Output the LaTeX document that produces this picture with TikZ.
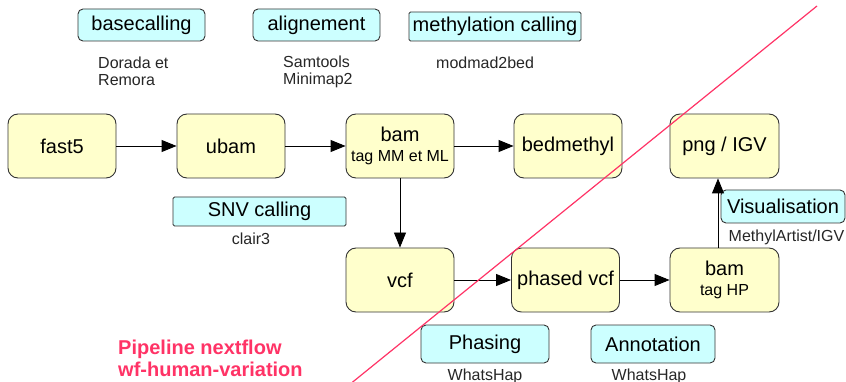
\documentclass[tikz,border=0pt]{standalone}
\usepackage{fontspec}
\setmainfont{Liberation Sans}
\usetikzlibrary{arrows.meta}
\definecolor{ybox}{HTML}{FFFFCC}
\definecolor{bbox}{HTML}{CCFFFF}
\definecolor{pinkred}{HTML}{FF3366}
\definecolor{edge}{HTML}{333333}
\tikzset{
  ybx/.style={draw=edge, line width=0.9pt, fill=ybox, rounded corners=10pt, minimum width=108pt, minimum height=64pt, inner sep=0pt, font=\fontsize{20}{22}\selectfont, align=center},
  bbx/.style={draw=edge, line width=0.9pt, fill=bbox, rounded corners=5pt, inner sep=0pt, font=\fontsize{20}{22}\selectfont},
  tool/.style={inner sep=0pt, font=\fontsize{16}{17}\selectfont, align=left, text=black!85},
  arr/.style={line width=0.9pt, -{Triangle[length=15pt,width=12pt]}}
}
\begin{document}
\begin{tikzpicture}[x=1pt,y=-1pt]
\useasboundingbox (0,0) rectangle (846,382);
% main nodes
\node[ybx] (fast5) at (62,146) {fast5};
\node[ybx] (ubam) at (231,146) {ubam};
\node[ybx] (bam) at (400,146) {bam\\[-2pt]{\fontsize{16}{17}\selectfont tag MM et ML}};
\node[ybx] (bed) at (568,146) {bedmethyl};
\node[ybx, minimum width=109pt] (png) at (724.5,146) {png / IGV};
\node[ybx] (vcf) at (400,280) {vcf};
\node[ybx] (phased) at (565.5,280) {phased vcf};
\node[ybx, minimum width=109pt] (bamhp) at (724.5,280) {bam\\[-2pt]{\fontsize{16}{17}\selectfont tag HP}};
% step boxes
\node[bbx, minimum width=127pt, minimum height=32pt] (basec) at (141.5,25) {basecalling};
\node[bbx, minimum width=127pt, minimum height=32pt] (align) at (316.5,25) {alignement};
\node[bbx, rounded corners=1.5pt, minimum width=172pt, minimum height=29pt] (methc) at (495,26.5) {methylation calling};
\node[bbx, rounded corners=1.5pt, minimum width=173pt, minimum height=29pt] (snvc) at (259.5,211.5) {SNV calling};
\node[bbx, minimum width=124pt, minimum height=33pt] (visu) at (783,206.5) {Visualisation};
\node[bbx, minimum width=128pt, minimum height=38pt] (phas) at (485,344) {Phasing};
\node[bbx, minimum width=124pt, minimum height=38pt] (annot) at (653,344) {Annotation};
% tool labels
\node[tool, anchor=west] (t1) at (98,71.5) {Dorada et\\Remora};
\node[tool, anchor=west] (t2) at (283,71.5) {Samtools\\Minimap2};
\node[tool, anchor=west] (t3) at (436,63) {modmad2bed};
\node[tool] (t4) at (251,239) {clair3};
\node[tool] (t5) at (786.5,237) {MethylArtist/IGV};
\node[tool] (t6) at (485,376) {WhatsHap};
\node[tool] (t7) at (649,376) {WhatsHap};
% connectors
\draw[arr] (fast5) -- (ubam);
\draw[arr] (ubam) -- (bam);
\draw[arr] (bam) -- (bed);
\draw[arr] (bam) -- (vcf);
\draw[arr] (vcf) -- (phased);
\draw[arr] (phased) -- (bamhp);
\draw[arr] ([xshift=-6.5pt]bamhp.north) -- ([xshift=-6.5pt]png.south);
% diagonal line
\coordinate (d1) at (349,385);
\coordinate (d2) at (817,6);
\draw[pinkred, line width=1.2pt] (d1) -- (d2);
\node[anchor=west, inner sep=0pt, align=left, text=pinkred, font=\bfseries\fontsize{20}{22}\selectfont] (pipe) at (118,358) {Pipeline nextflow\\wf-human-variation};
\end{tikzpicture}
\end{document}
